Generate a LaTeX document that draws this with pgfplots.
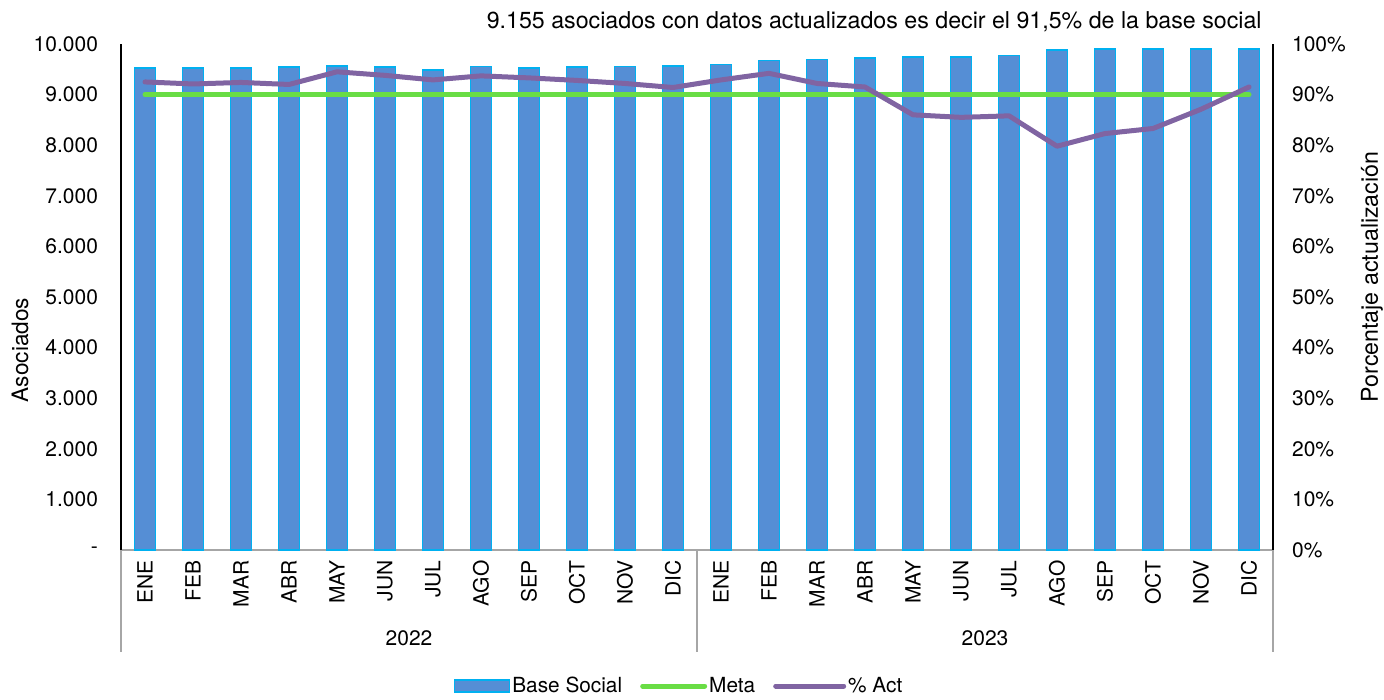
\documentclass[border=0pt]{standalone}
\usepackage{pgfplots}
\pgfplotsset{compat=1.18}
\usepackage{fontspec}
\setmainfont{TeX Gyre Heros}
\definecolor{barblue}{HTML}{558ED5}
\definecolor{barcyan}{HTML}{00B0F0}
\definecolor{metagreen}{HTML}{69DD45}
\definecolor{actpurple}{HTML}{8064A2}
\definecolor{axgray}{HTML}{A6A6A6}
\newcommand{\tickfont}{\fontsize{10.5}{12}\selectfont}
\pgfplotstableread{
x base act
0 9526 0.925
1 9526 0.921
2 9526 0.924
3 9540 0.920
4 9560 0.945
5 9540 0.938
6 9486 0.929
7 9552 0.937
8 9526 0.933
9 9540 0.928
10 9552 0.922
11 9560 0.914
12 9591 0.929
13 9670 0.942
14 9697 0.922
15 9723 0.915
16 9743 0.860
17 9743 0.855
18 9769 0.858
19 9881 0.798
20 9901 0.823
21 9901 0.833
22 9901 0.871
23 9901 0.915
}\datatable
\pgfplotstableread{
x meta
0 0.9
23 0.9
}\metatable
\begin{document}
\begin{tikzpicture}
\pgfplotsset{
  common/.style={
    scale only axis, width=576pt, height=253pt,
    xmin=-0.5, xmax=23.5,
    major tick length=0pt,
    clip=false,
    scaled y ticks=false,
    /pgf/number format/assume math mode=true,
    ticklabel style={font=\tickfont},
  }
}
\begin{axis}[common,
  ymin=0, ymax=10000,
  axis x line*=bottom, axis y line*=left,
  axis line style={-},
  x axis line style={draw=axgray, line width=0.9pt},
  y axis line style={draw=black, line width=0.9pt},
  ytick={0,1000,2000,3000,4000,5000,6000,7000,8000,9000,10000},
  yticklabels={-,1.000,2.000,3.000,4.000,5.000,6.000,7.000,8.000,9.000,10.000},
  yticklabel style={xshift=-8pt},
  xtick={0,...,23},
  xticklabels={ENE,FEB,MAR,ABR,MAY,JUN,JUL,AGO,SEP,OCT,NOV,DIC,ENE,FEB,MAR,ABR,MAY,JUN,JUL,AGO,SEP,OCT,NOV,DIC},
  xticklabel style={rotate=90, anchor=east, inner sep=0pt, xshift=-5pt},
]
\addplot[ybar, bar width=10.5pt, fill=barblue, draw=barcyan, line width=0.8pt] table[x=x, y=base] {\datatable};
\draw[axgray, line width=0.9pt] (axis cs:-0.5,0) -- ([yshift=-51pt]axis cs:-0.5,0);
\draw[axgray, line width=0.9pt] (axis cs:11.5,0) -- ([yshift=-51pt]axis cs:11.5,0);
\draw[axgray, line width=0.9pt] (axis cs:23.5,0) -- ([yshift=-51pt]axis cs:23.5,0);
\node[font=\tickfont] at (axis cs:5.5,0) [yshift=-44pt] {2022};
\node[font=\tickfont] at (axis cs:17.5,0) [yshift=-44pt] {2023};
\end{axis}
\begin{axis}[common,
  ymin=0, ymax=1,
  axis x line=none, axis y line*=right,
  axis line style={-, draw=black, line width=0.9pt},
  ytick={0,0.1,0.2,0.3,0.4,0.5,0.6,0.7,0.8,0.9,1},
  yticklabels={0\%,10\%,20\%,30\%,40\%,50\%,60\%,70\%,80\%,90\%,100\%},
  yticklabel style={xshift=6pt},
  legend style={at={(0.4844,-0.2688)}, anchor=center, draw=none, fill=none,
    legend columns=3, font=\fontsize{10.4}{12}\selectfont,
    /tikz/every even column/.append style={column sep=8pt},
    nodes={inner xsep=1pt},
    inner sep=0pt, cells={anchor=west}},
]
\addlegendimage{legend image code/.code={\draw[fill=barblue, draw=barcyan, line width=0.8pt] (0pt,-3pt) rectangle (27.5pt,3pt);}}
\addlegendentry{Base Social}
\addplot[metagreen, line width=2.5pt, line cap=round,
  legend image code/.code={\draw[metagreen, line width=2.5pt, line cap=round] (1pt,0pt) -- (32pt,0pt);}]
  table[x=x, y=meta] {\metatable};
\addlegendentry{Meta}
\addplot[actpurple, line width=2.5pt, line cap=round, line join=round,
  legend image code/.code={\draw[actpurple, line width=2.5pt, line cap=round] (1pt,0pt) -- (35pt,0pt);}]
  table[x=x, y=act] {\datatable};
\addlegendentry{\% Act}
\end{axis}
\node[anchor=east, font=\fontsize{11.6}{13}\selectfont, inner sep=0pt] at (570.5pt,264pt) {9.155 asociados con datos actualizados es decir el 91,5\% de la base social};
\node[rotate=90, font=\fontsize{11.3}{13}\selectfont, inner sep=0pt] at (-50.5pt,100pt) {Asociados};
\node[rotate=90, font=\fontsize{11.6}{13}\selectfont, inner sep=0pt] at (625.5pt,136.5pt) {Porcentaje actualización};
\useasboundingbox (-60.5pt,-72.5pt) rectangle (631.5pt,275pt);
\end{tikzpicture}
\end{document}
